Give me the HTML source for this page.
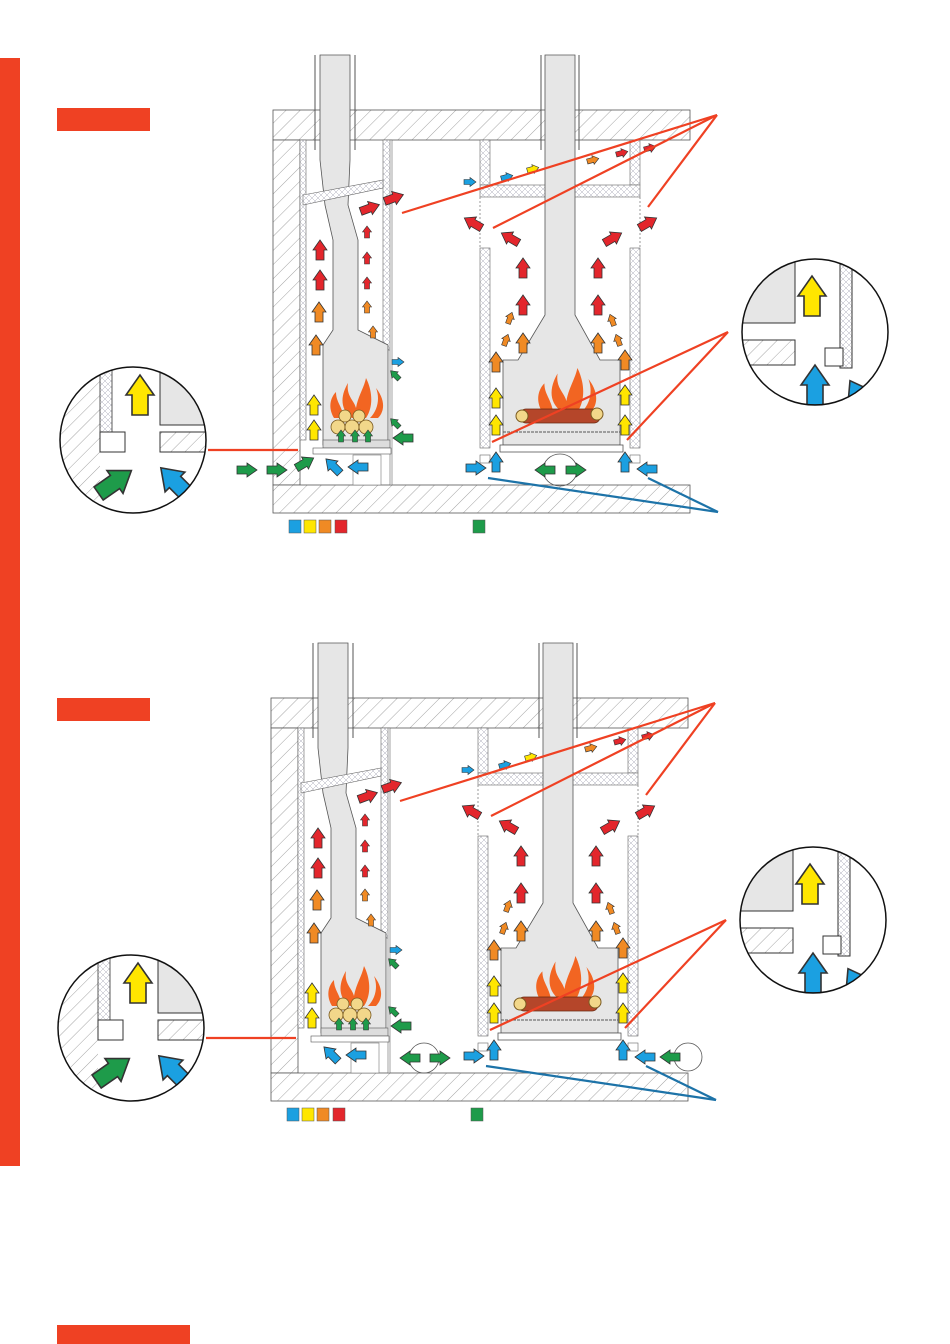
<!DOCTYPE html>
<html><head><meta charset="utf-8"><style>
html,body{margin:0;padding:0;background:#fff;}
svg{display:block;}
</style></head><body>
<svg width="950" height="1344" viewBox="0 0 950 1344" xmlns="http://www.w3.org/2000/svg">
<defs>
<pattern id="h" width="10" height="10" patternUnits="userSpaceOnUse" patternTransform="rotate(45)">
<rect width="10" height="10" fill="#fff"/><line x1="0" y1="0" x2="0" y2="10" stroke="#666" stroke-width="0.6"/>
</pattern>
<pattern id="x" width="6" height="6" patternUnits="userSpaceOnUse">
<rect width="6" height="6" fill="#fff"/><path d="M0 0L6 6M6 0L0 6" stroke="#99a" stroke-width="0.4"/>
</pattern>
<polygon id="a" points="-4,10 4,10 4,0 7,0 0,-10 -7,0 -4,0" stroke="#333" stroke-width="0.8"/>
<polygon id="s" points="-2.5,6 2.5,6 2.5,0 4.5,0 0,-6 -4.5,0 -2.5,0" stroke="#333" stroke-width="0.6"/>
<g id="flame" fill="#f26522">
<path d="M0 0 C-14 -10 -10 -25 -4 -35 C-6 -22 2 -18 4 -10 C6 -22 12 -30 14 -40 C20 -28 22 -12 14 0 Z"/>
<path d="M-18 0 C-24 -10 -22 -20 -16 -26 C-16 -16 -10 -12 -8 0Z"/>
<path d="M18 0 C26 -8 28 -20 24 -30 C32 -20 34 -8 26 0Z"/>
</g>
<g id="diag">
<rect x="273" y="110" width="417" height="30" fill="url(#h)" stroke="#555" stroke-width="0.8"/>
<rect x="273" y="140" width="27" height="345" fill="url(#h)" stroke="#555" stroke-width="0.8"/>
<rect x="273" y="485" width="417" height="28" fill="url(#h)" stroke="#555" stroke-width="0.8"/>
<rect x="300" y="140" width="6" height="300" fill="url(#x)" stroke="#666" stroke-width="0.6"/>
<rect x="383" y="140" width="8" height="210" fill="url(#x)" stroke="#666" stroke-width="0.6"/>
<rect x="390" y="140" width="2" height="345" fill="#fff" stroke="#666" stroke-width="0.6"/>
<path d="M320 55 L350 55 L350 160 L348 205 L358 240 L358 330 L388 345 L388 445 L323 445 L323 345 L333 330 L333 240 L325 205 L320 160 Z" fill="#e6e6e6" stroke="#555" stroke-width="0.8"/>
<line x1="315" y1="55" x2="315" y2="150" stroke="#555"/>
<line x1="355" y1="55" x2="355" y2="150" stroke="#555"/>
<path d="M303 195 L383 180 L383 188 L303 205Z" fill="url(#x)" stroke="#666" stroke-width="0.6"/>
<rect x="323" y="440" width="67" height="8" fill="#ddd" stroke="#555" stroke-width="0.6"/>
<rect x="313" y="448" width="78" height="6" fill="#fff" stroke="#555" stroke-width="0.6"/>
<rect x="353" y="455" width="28" height="30" fill="#fff" stroke="#777" stroke-width="0.6"/>
<use href="#flame" transform="translate(352,418)"/>
<g fill="#f2d78a" stroke="#7a5a20" stroke-width="0.8">
<circle cx="338" cy="427" r="7"/><circle cx="352" cy="427" r="7"/><circle cx="366" cy="427" r="7"/><circle cx="345" cy="416" r="6"/><circle cx="359" cy="416" r="6"/>
</g>
<rect x="480" y="140" width="10" height="45" fill="url(#x)" stroke="#666" stroke-width="0.6"/>
<rect x="630" y="140" width="10" height="45" fill="url(#x)" stroke="#666" stroke-width="0.6"/>
<rect x="480" y="185" width="160" height="12" fill="url(#x)" stroke="#666" stroke-width="0.6"/>
<rect x="480" y="248" width="10" height="200" fill="url(#x)" stroke="#666" stroke-width="0.6"/>
<rect x="630" y="248" width="10" height="200" fill="url(#x)" stroke="#666" stroke-width="0.6"/>
<line x1="480" y1="197" x2="480" y2="248" stroke="#999" stroke-dasharray="2,2"/>
<line x1="640" y1="197" x2="640" y2="248" stroke="#999" stroke-dasharray="2,2"/>
<rect x="480" y="455" width="10" height="8" fill="#fff" stroke="#666" stroke-width="0.6"/>
<rect x="630" y="455" width="10" height="8" fill="#fff" stroke="#666" stroke-width="0.6"/>
<path d="M545 55 L575 55 L575 315 L600 360 L620 360 L620 445 L503 445 L503 360 L518 360 L545 315 Z" fill="#e6e6e6" stroke="#555" stroke-width="0.8"/>
<line x1="541" y1="55" x2="541" y2="150" stroke="#555"/>
<line x1="579" y1="55" x2="579" y2="150" stroke="#555"/>
<line x1="503" y1="432" x2="620" y2="432" stroke="#555" stroke-dasharray="3,1"/>
<rect x="500" y="445" width="123" height="7" fill="#fff" stroke="#555" stroke-width="0.8"/>
<use href="#flame" transform="translate(562,412) scale(1.1)"/>
<rect x="520" y="409" width="80" height="14" rx="6" fill="#b5462a" stroke="#6a2a10" stroke-width="0.8"/>
<circle cx="522" cy="416" r="6" fill="#f2d78a" stroke="#7a5a20"/><circle cx="597" cy="414" r="6" fill="#f2d78a" stroke="#7a5a20"/>
<g fill="#e3262c"><use href="#a" transform="translate(320,250)"/><use href="#a" transform="translate(320,280)"/>
<use href="#a" transform="translate(370,208) rotate(70)"/><use href="#a" transform="translate(394,198) rotate(70)"/>
<use href="#s" transform="translate(367,232)"/><use href="#s" transform="translate(367,258)"/><use href="#s" transform="translate(367,283)"/></g>
<g fill="#f08a24"><use href="#a" transform="translate(319,312)"/><use href="#a" transform="translate(316,345)"/>
<use href="#s" transform="translate(367,307)"/><use href="#s" transform="translate(373,332)"/></g>
<g fill="#ffe600"><use href="#a" transform="translate(314,405)"/><use href="#a" transform="translate(314,430)"/></g>
<g fill="#1ba0e1"><use href="#s" transform="translate(398,362) rotate(90)"/>
<use href="#a" transform="translate(333,466) rotate(-45)"/><use href="#a" transform="translate(358,467) rotate(-90)"/></g>
<g fill="#1e9b4a"><use href="#s" transform="translate(395,375) rotate(-45)"/><use href="#s" transform="translate(395,423) rotate(-45)"/>
<use href="#a" transform="translate(403,438) rotate(-90)"/>
<use href="#s" transform="translate(341,436)"/><use href="#s" transform="translate(355,436)"/><use href="#s" transform="translate(368,436)"/></g>
<g fill="#e3262c"><use href="#a" transform="translate(523,268)"/><use href="#a" transform="translate(523,305)"/>
<use href="#a" transform="translate(598,268)"/><use href="#a" transform="translate(598,305)"/>
<use href="#a" transform="translate(473,223) rotate(-60)"/><use href="#a" transform="translate(510,238) rotate(-60)"/>
<use href="#a" transform="translate(613,238) rotate(60)"/><use href="#a" transform="translate(648,223) rotate(60)"/>
<use href="#s" transform="translate(622,153) rotate(75)"/><use href="#s" transform="translate(650,148) rotate(75)"/></g>
<g fill="#f08a24"><use href="#a" transform="translate(523,343)"/><use href="#a" transform="translate(598,343)"/>
<use href="#a" transform="translate(496,362)"/><use href="#a" transform="translate(625,360)"/>
<use href="#s" transform="translate(506,340) rotate(20)"/><use href="#s" transform="translate(510,318) rotate(20)"/>
<use href="#s" transform="translate(618,340) rotate(-20)"/><use href="#s" transform="translate(612,320) rotate(-20)"/>
<use href="#s" transform="translate(593,160) rotate(75)"/></g>
<g fill="#ffe600"><use href="#a" transform="translate(496,398)"/><use href="#a" transform="translate(496,425)"/>
<use href="#a" transform="translate(625,395)"/><use href="#a" transform="translate(625,425)"/><use href="#s" transform="translate(533,169) rotate(75)"/></g>
<g fill="#1ba0e1"><use href="#a" transform="translate(496,462)"/><use href="#a" transform="translate(625,462)"/>
<use href="#a" transform="translate(476,468) rotate(90)"/><use href="#a" transform="translate(647,469) rotate(-90)"/>
<use href="#s" transform="translate(470,182) rotate(90)"/><use href="#s" transform="translate(507,177) rotate(75)"/></g>
<g stroke="#ef4123" stroke-width="2.2" fill="none">
<line x1="717" y1="115" x2="402" y2="213"/><line x1="717" y1="115" x2="493" y2="228"/><line x1="717" y1="115" x2="648" y2="207"/>
<line x1="728" y1="332" x2="492" y2="442"/><line x1="728" y1="332" x2="627" y2="440"/>
<line x1="208" y1="450" x2="298" y2="450"/>
</g>
<g stroke="#1d73a8" stroke-width="2.2"><line x1="718" y1="512" x2="488" y2="478"/><line x1="718" y1="512" x2="648" y2="478"/></g>
<clipPath id="c1"><circle cx="133" cy="440" r="73"/></clipPath>
<g clip-path="url(#c1)">
<rect x="55" y="365" width="45" height="150" fill="url(#h)"/>
<rect x="100" y="365" width="12" height="70" fill="url(#x)" stroke="#333" stroke-width="0.8"/>
<rect x="160" y="365" width="50" height="60" fill="#e6e6e6" stroke="#333"/>
<rect x="100" y="432" width="25" height="20" fill="#fff" stroke="#333"/>
<rect x="160" y="432" width="50" height="20" fill="url(#h)" stroke="#333"/>
<use href="#a" fill="#ffe600" transform="translate(140,395) scale(2)"/>
<use href="#a" fill="#1e9b4a" transform="translate(115,482) rotate(55) scale(2)"/>
<use href="#a" fill="#1ba0e1" transform="translate(175,482) rotate(-45) scale(2)"/>
</g>
<circle cx="133" cy="440" r="73" fill="none" stroke="#111" stroke-width="1.5"/>
<clipPath id="c2"><circle cx="815" cy="332" r="73"/></clipPath>
<g clip-path="url(#c2)">
<rect x="740" y="258" width="55" height="65" fill="#e6e6e6" stroke="#333"/>
<rect x="740" y="340" width="55" height="25" fill="url(#h)" stroke="#333"/>
<rect x="840" y="258" width="12" height="110" fill="url(#x)" stroke="#333"/>
<rect x="825" y="348" width="18" height="18" fill="#fff" stroke="#333"/>
<use href="#a" fill="#ffe600" transform="translate(812,296) scale(2)"/>
<use href="#a" fill="#1ba0e1" transform="translate(815,385) scale(2)"/>
<use href="#a" fill="#1ba0e1" transform="translate(860,398) rotate(-30) scale(2)"/>
</g>
<circle cx="815" cy="332" r="73" fill="none" stroke="#111" stroke-width="1.5"/>
<rect x="289" y="520" width="12" height="13" fill="#1ba0e1" stroke="#555" stroke-width="0.5"/>
<rect x="304" y="520" width="12" height="13" fill="#ffe600" stroke="#555" stroke-width="0.5"/>
<rect x="319" y="520" width="12" height="13" fill="#f08a24" stroke="#555" stroke-width="0.5"/>
<rect x="335" y="520" width="12" height="13" fill="#e3262c" stroke="#555" stroke-width="0.5"/>
<rect x="473" y="520" width="12" height="13" fill="#1e9b4a" stroke="#555" stroke-width="0.5"/>
</g>
</defs>
<rect x="0" y="58" width="20" height="1108" fill="#ef4123"/>
<rect x="57" y="108" width="93" height="23" fill="#ef4123"/>
<rect x="57" y="698" width="93" height="23" fill="#ef4123"/>
<rect x="57" y="1325" width="133" height="19" fill="#ef4123"/>
<use href="#diag"/>
<g fill="#1e9b4a">
<use href="#a" transform="translate(247,470) rotate(90)"/><use href="#a" transform="translate(277,470) rotate(90)"/><use href="#a" transform="translate(305,463) rotate(60)"/>
<ellipse cx="560" cy="470" rx="17" ry="16" fill="none" stroke="#555" stroke-width="0.8"/>
<use href="#a" transform="translate(545,470) rotate(-90)"/><use href="#a" transform="translate(576,470) rotate(90)"/>
</g>
<use href="#diag" transform="translate(-2,588)"/>
<g fill="#1e9b4a">
<ellipse cx="424" cy="1058" rx="15" ry="15" fill="none" stroke="#555" stroke-width="0.8"/>
<use href="#a" transform="translate(410,1058) rotate(-90)"/><use href="#a" transform="translate(440,1058) rotate(90)"/>
<ellipse cx="688" cy="1057" rx="14" ry="14" fill="none" stroke="#555" stroke-width="0.8"/>
<use href="#a" transform="translate(670,1057) rotate(-90)"/>
</g>
</svg>
</body></html>
